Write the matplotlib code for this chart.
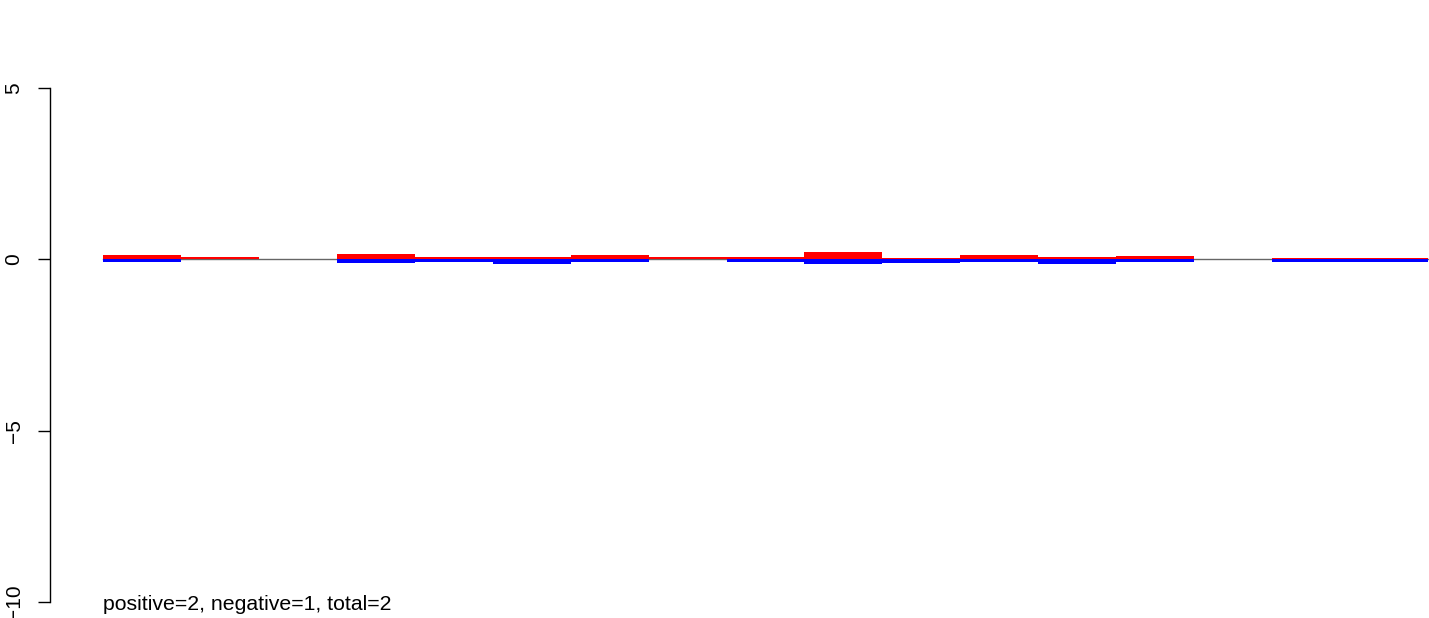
import numpy as np
import matplotlib
matplotlib.use("Agg")
import matplotlib.pyplot as plt

plt.rcParams['font.family'] = ['Liberation Sans', 'DejaVu Sans']

# per-window values (17 windows), positive and negative parts
pos_vals = [0.12, 0.07, 0.0, 0.17, 0.08, 0.08, 0.12, 0.07, 0.08,
            0.20, 0.03, 0.14, 0.08, 0.11, 0.0, 0.05, 0.05]
neg_vals = [-0.07, 0.0, 0.0, -0.12, -0.09, -0.13, -0.07, 0.0, -0.07,
            -0.13, -0.10, -0.09, -0.13, -0.07, 0.0, -0.07, -0.07]
y_ticks = [5, 0, -5, -10]
label = "positive=2, negative=1, total=2"

W, H = 1429, 618
fig = plt.figure(figsize=(W / 100, H / 100), dpi=100)
ax = fig.add_axes([50 / W, 0, 1 - 50 / W, 1])

x = np.arange(len(pos_vals))
ax.plot([0, len(pos_vals)], [0, 0], color='#666666', lw=1, zorder=1)
ax.bar(x, neg_vals, width=1.0, align='edge', color='#0000FF', lw=0, zorder=2)
ax.bar(x, pos_vals, width=1.0, align='edge', color='#FF0000', lw=0, zorder=3)

# pixel mapping: x 0 -> 103px, 17 -> 1428px ; y 5 -> 88px, -10 -> 602px
pxx = 1325 / 17
ax.set_xlim(-53 / pxx, (W - 103) / pxx)
pxy = (602 - 88) / 15
ax.set_ylim(-10 - (H - 602) / pxy, 5 + 88 / pxy)

for s in ['top', 'right', 'bottom']:
    ax.spines[s].set_visible(False)
ax.spines['left'].set_bounds(-10, 5)
ax.spines['left'].set_linewidth(1.0)
ax.set_xticks([])
ax.set_yticks(y_ticks)
ax.set_yticklabels([str(t).replace('-', '\u2212') for t in y_ticks], rotation=90, va='center')
ax.tick_params(axis='y', length=9, width=1.0, pad=10, labelsize=15)

ax.text(0, -10.08, label, ha='left', va='center', fontsize=15.3)

fig.savefig("out.png", dpi=100)
